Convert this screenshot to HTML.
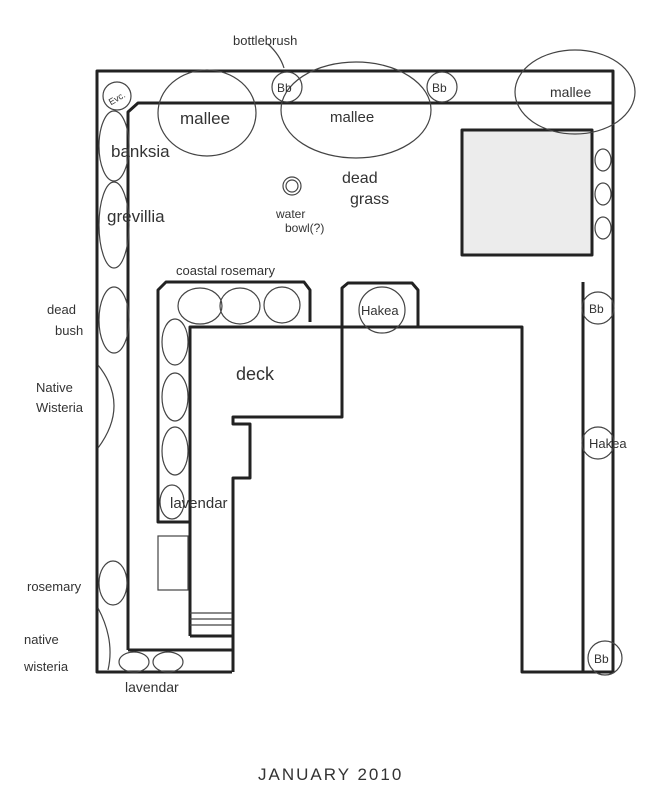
<!DOCTYPE html>
<html><head><meta charset="utf-8"><style>
html,body{margin:0;padding:0;background:#fff;}
svg{display:block;}
text{font-family:"Liberation Sans",sans-serif;fill:#333;}
</style></head><body>
<svg width="662" height="812" viewBox="0 0 662 812" xmlns="http://www.w3.org/2000/svg">
<g fill="none" stroke="#222" stroke-width="3" stroke-linejoin="round">
<!-- outer boundary -->
<polyline points="232,672 97,672 97,71 613,71 613,672 522,672 522,327 342,327"/>
<polyline points="128,650 128,112 138,103 613,103"/>
<line x1="128" y1="650" x2="232" y2="650"/>
<line x1="583" y1="282" x2="583" y2="672"/>
<!-- grey square -->
<rect x="462" y="130" width="130" height="125" fill="#ececec"/>
<!-- coastal rosemary bed -->
<polyline points="190,522 158,522 158,290 166,282 304,282 310,290 310,322"/>
<!-- hakea bed -->
<polyline points="342,327 342,288 348,283 412,283 418,290 418,327"/>
<!-- deck -->
<polyline points="190,636 190,327 342,327 342,417 233,417 233,424 250,424 250,478 233,478 233,672"/>
<line x1="190" y1="636" x2="233" y2="636"/>
</g>
<g fill="none" stroke="#444" stroke-width="1.2">
<rect x="158" y="536" width="30" height="54"/>
<line x1="190" y1="613" x2="232" y2="613"/><line x1="190" y1="619" x2="232" y2="619"/><line x1="190" y1="625" x2="232" y2="625"/>
<!-- plants -->
<ellipse cx="117" cy="96" rx="14" ry="14"/>
<ellipse cx="207" cy="113" rx="49" ry="43"/>
<ellipse cx="356" cy="110" rx="75" ry="48"/>
<ellipse cx="575" cy="92" rx="60" ry="42"/>
<circle cx="287" cy="87" r="15"/><circle cx="442" cy="87" r="15"/>
<ellipse cx="114" cy="146" rx="15" ry="35"/>
<ellipse cx="114" cy="225" rx="15" ry="43"/>
<ellipse cx="114" cy="320" rx="15" ry="33"/>
<path d="M98,365 Q130,405 98,448"/>
<ellipse cx="113" cy="583" rx="14" ry="22"/>
<path d="M98,608 Q115,640 108,670"/>
<ellipse cx="134" cy="662" rx="15" ry="10"/><ellipse cx="168" cy="662" rx="15" ry="10"/>
<ellipse cx="200" cy="306" rx="22" ry="18"/><ellipse cx="240" cy="306" rx="20" ry="18"/><ellipse cx="282" cy="305" rx="18" ry="18"/>
<ellipse cx="175" cy="342" rx="13" ry="23"/><ellipse cx="175" cy="397" rx="13" ry="24"/><ellipse cx="175" cy="451" rx="13" ry="24"/><ellipse cx="172" cy="502" rx="12" ry="17"/>
<circle cx="382" cy="310" r="23"/>
<circle cx="292" cy="186" r="9"/><circle cx="292" cy="186" r="6"/>
<ellipse cx="603" cy="160" rx="8" ry="11"/><ellipse cx="603" cy="194" rx="8" ry="11"/><ellipse cx="603" cy="228" rx="8" ry="11"/>
<circle cx="598" cy="308" r="16"/><circle cx="598" cy="443" r="16"/><circle cx="605" cy="658" r="17"/>
<path d="M268,44 Q280,55 284,68"/>
</g>
<g font-size="13">
<text x="233" y="45">bottlebrush</text>
<text x="107" y="101" font-size="9" transform="rotate(-30 117 96)">Evc.</text>
<text x="277" y="92" font-size="12">Bb</text><text x="432" y="92" font-size="12">Bb</text>
<text x="180" y="124" font-size="17">mallee</text>
<text x="330" y="122" font-size="15">mallee</text>
<text x="550" y="97" font-size="14">mallee</text>
<text x="111" y="157" font-size="17">banksia</text>
<text x="107" y="222" font-size="17">grevillia</text>
<text x="342" y="183" font-size="16">dead</text><text x="350" y="204" font-size="16">grass</text>
<text x="276" y="218" font-size="12">water</text><text x="285" y="232" font-size="12">bowl(?)</text>
<text x="176" y="275">coastal rosemary</text>
<text x="361" y="315" font-size="13">Hakea</text>
<text x="236" y="380" font-size="18">deck</text>
<text x="170" y="508" font-size="15">lavendar</text>
<text x="47" y="314">dead</text><text x="55" y="335">bush</text>
<text x="36" y="392">Native</text><text x="36" y="412">Wisteria</text>
<text x="27" y="591">rosemary</text>
<text x="24" y="644">native</text><text x="24" y="671">wisteria</text>
<text x="125" y="692" font-size="14">lavendar</text>
<text x="589" y="313" font-size="12">Bb</text>
<text x="589" y="448" font-size="13">Hakea</text>
<text x="594" y="663" font-size="12">Bb</text>
<text x="258" y="780" font-size="17" letter-spacing="2">JANUARY 2010</text>
</g>
</svg>
</body></html>
